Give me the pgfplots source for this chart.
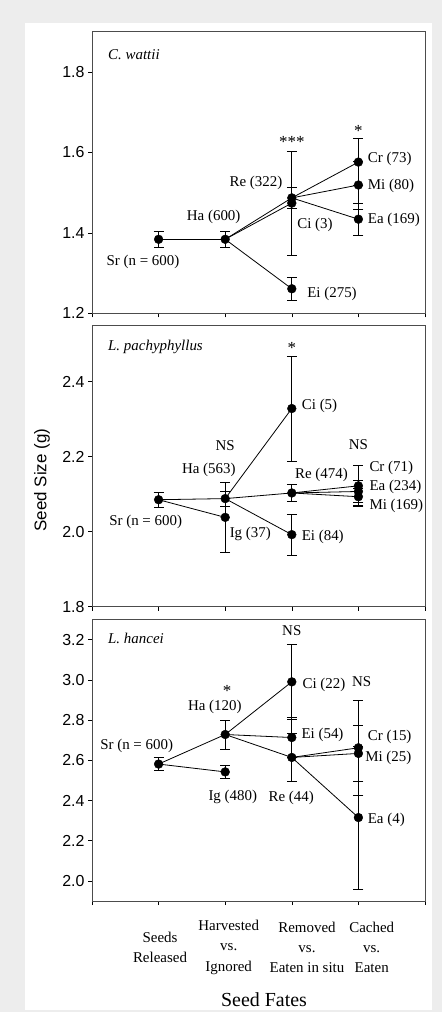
\documentclass[border=0pt]{standalone}
\usepackage{fontspec}
\setmainfont{Liberation Serif}
\setsansfont{Liberation Sans}
\usepackage{pgfplots}
\pgfplotsset{compat=1.18}
\pgfplotsset{
  panel/.style={scale only axis, width=333bp, height=281.5bp, anchor=south west,
    xmin=0, xmax=5, xtick={0,1,2,3,4,5}, xticklabels={},
    axis line style={black!70, line width=0.7bp},
    tick align=outside, major tick length=4bp,
    tick style={black, line width=0.6bp},
    xtick pos=bottom, ytick pos=left, clip=false,
    yticklabel style={font=\fontsize{16}{16}\selectfont\sffamily},
    /pgf/number format/.cd, fixed, fixed zerofill, precision=1, assume math mode=true},
  seg/.style={black, line width=0.8bp, no marks},
  pts/.style={only marks, black, mark=*, mark size=4.4bp, mark options={fill=black},
    error bars/.cd, y dir=both, y explicit,
    error bar style={line width=0.7bp, black},
    error mark options={rotate=90, mark size=5bp, line width=0.7bp, black}},
}
\tikzset{lab/.style={font=\fontsize{15}{18}\selectfont, inner sep=0pt},
  ast/.style={font=\fontsize{17}{18}\selectfont, inner sep=0pt}}
\begin{document}
\begin{tikzpicture}
\fill[black!7] (0bp,0bp) rectangle (442bp,1012bp);
\fill[white] (25bp,2bp) rectangle (432bp,989bp);

% ---------- Panel 1: C. wattii ----------
\begin{axis}[panel, at={(92bp,698.7bp)}, ymin=1.2, ymax=1.9, ytick={1.2,1.4,1.6,1.8}]
\addplot[seg] coordinates {(1,1.384) (2,1.384)};
\addplot[seg] coordinates {(2,1.384) (3,1.487)};
\addplot[seg] coordinates {(2,1.384) (3,1.474)};
\addplot[seg] coordinates {(2,1.384) (3,1.261)};
\addplot[seg] coordinates {(3,1.487) (4,1.576)};
\addplot[seg] coordinates {(3,1.487) (4,1.519)};
\addplot[seg] coordinates {(3,1.487) (4,1.434)};
\addplot[pts] table[x=x, y=y, y error=e] {
x y e
1 1.384 0.021
2 1.384 0.021
3 1.487 0.026
3 1.474 0.129
3 1.261 0.028
4 1.576 0.058
4 1.519 0.060
4 1.434 0.040
};
\node[lab, anchor=west] at (axis cs:0.24,1.844) {\textit{C. wattii}};
\node[lab] at (axis cs:0.766,1.327) {Sr (n = 600)};
\node[lab] at (axis cs:1.827,1.439) {Ha (600)};
\node[lab] at (axis cs:2.462,1.524) {Re (322)};
\node[lab] at (axis cs:3.348,1.419) {Ci (3)};
\node[lab] at (axis cs:3.604,1.248) {Ei (275)};
\node[lab, anchor=west] at (axis cs:4.14,1.583) {Cr (73)};
\node[lab, anchor=west] at (axis cs:4.14,1.517) {Mi (80)};
\node[lab, anchor=west] at (axis cs:4.14,1.432) {Ea (169)};
\node[ast] at (axis cs:3,1.627) {***};
\node[ast] at (axis cs:4,1.654) {*};
\end{axis}

% ---------- Panel 2: L. pachyphyllus ----------
\begin{axis}[panel, at={(92bp,405.3bp)}, ymin=1.8, ymax=2.55, ytick={1.8,2.0,2.2,2.4}]
\addplot[seg] coordinates {(1,2.085) (2,2.088)};
\addplot[seg] coordinates {(1,2.085) (2,2.038)};
\addplot[seg] coordinates {(2,2.088) (3,2.328)};
\addplot[seg] coordinates {(2,2.088) (3,2.103)};
\addplot[seg] coordinates {(2,2.088) (3,1.992)};
\addplot[seg] coordinates {(3,2.103) (4,2.122)};
\addplot[seg] coordinates {(3,2.103) (4,2.107)};
\addplot[seg] coordinates {(3,2.103) (4,2.093)};
\addplot[pts] table[x=x, y=y, y error=e] {
x y e
1 2.085 0.020
2 2.088 0.020
2 2.038 0.094
3 2.328 0.140
3 2.103 0.023
3 1.992 0.055
4 2.122 0.055
4 2.107 0.030
4 2.093 0.022
};
\node[lab, anchor=west] at (axis cs:0.24,2.493) {\textit{L. pachyphyllus}};
\node[ast] at (axis cs:3,2.49) {*};
\node[lab] at (axis cs:2,2.228) {NS};
\node[lab] at (axis cs:4,2.231) {NS};
\node[lab, anchor=west] at (axis cs:3.149,2.334) {Ci (5)};
\node[lab] at (axis cs:1.754,2.165) {Ha (563)};
\node[lab] at (axis cs:3.446,2.152) {Re (474)};
\node[lab, anchor=west] at (axis cs:4.164,2.171) {Cr (71)};
\node[lab, anchor=west] at (axis cs:4.164,2.118) {Ea (234)};
\node[lab, anchor=west] at (axis cs:4.164,2.069) {Mi (169)};
\node[lab] at (axis cs:0.806,2.025) {Sr (n = 600)};
\node[lab] at (axis cs:2.377,1.994) {Ig (37)};
\node[lab] at (axis cs:3.465,1.987) {Ei (84)};
\end{axis}

% ---------- Panel 3: L. hancei ----------
\begin{axis}[panel, at={(92bp,111bp)}, ymin=1.9, ymax=3.3, ytick={2.0,2.2,2.4,2.6,2.8,3.0,3.2}]
\addplot[seg] coordinates {(1,2.581) (2,2.728)};
\addplot[seg] coordinates {(1,2.581) (2,2.542)};
\addplot[seg] coordinates {(2,2.728) (3,2.990)};
\addplot[seg] coordinates {(2,2.728) (3,2.713)};
\addplot[seg] coordinates {(2,2.728) (3,2.614)};
\addplot[seg] coordinates {(3,2.614) (4,2.662)};
\addplot[seg] coordinates {(3,2.614) (4,2.634)};
\addplot[seg] coordinates {(3,2.614) (4,2.315)};
\addplot[pts] table[x=x, y=y, y error=e] {
x y e
1 2.581 0.031
2 2.728 0.072
2 2.542 0.033
3 2.990 0.185
3 2.713 0.100
3 2.614 0.120
4 2.662 0.237
4 2.634 0.140
4 2.315 0.355
};
\node[lab, anchor=west] at (axis cs:0.24,3.206) {\textit{L. hancei}};
\node[lab] at (axis cs:3,3.247) {NS};
\node[ast] at (axis cs:2.03,2.945) {*};
\node[lab] at (axis cs:4.05,2.99) {NS};
\node[lab] at (axis cs:3.483,2.977) {Ci (22)};
\node[lab] at (axis cs:1.844,2.866) {Ha (120)};
\node[lab] at (axis cs:3.461,2.725) {Ei (54)};
\node[lab] at (axis cs:4.47,2.716) {Cr (15)};
\node[lab] at (axis cs:4.449,2.614) {Mi (25)};
\node[lab] at (axis cs:0.671,2.67) {Sr (n = 600)};
\node[lab] at (axis cs:2.114,2.418) {Ig (480)};
\node[lab] at (axis cs:2.992,2.411) {Re (44)};
\node[lab] at (axis cs:4.419,2.302) {Ea (4)};
\node[lab, align=center, font=\fontsize{15}{20.3}\selectfont] at (axis cs:1.021,1.671) {Seeds\\Released};
\node[lab, align=center, font=\fontsize{15}{20.3}\selectfont] at (axis cs:2.053,1.670) {Harvested\\vs.\\Ignored};
\node[lab, align=center, font=\fontsize{15}{20.3}\selectfont] at (axis cs:3.228,1.670) {Removed\\vs.\\Eaten in situ};
\node[lab, align=center, font=\fontsize{15}{20.3}\selectfont] at (axis cs:4.2,1.670) {Cached\\vs.\\Eaten};
\end{axis}

\node[rotate=90, font=\fontsize{17}{17}\selectfont\sffamily] at (42bp,532bp) {Seed Size (g)};
\node[font=\fontsize{20}{20}\selectfont] at (264bp,12.7bp) {Seed Fates};

\pgfresetboundingbox
\path (0bp,0bp) rectangle (442bp,1012bp);
\end{tikzpicture}
\end{document}
